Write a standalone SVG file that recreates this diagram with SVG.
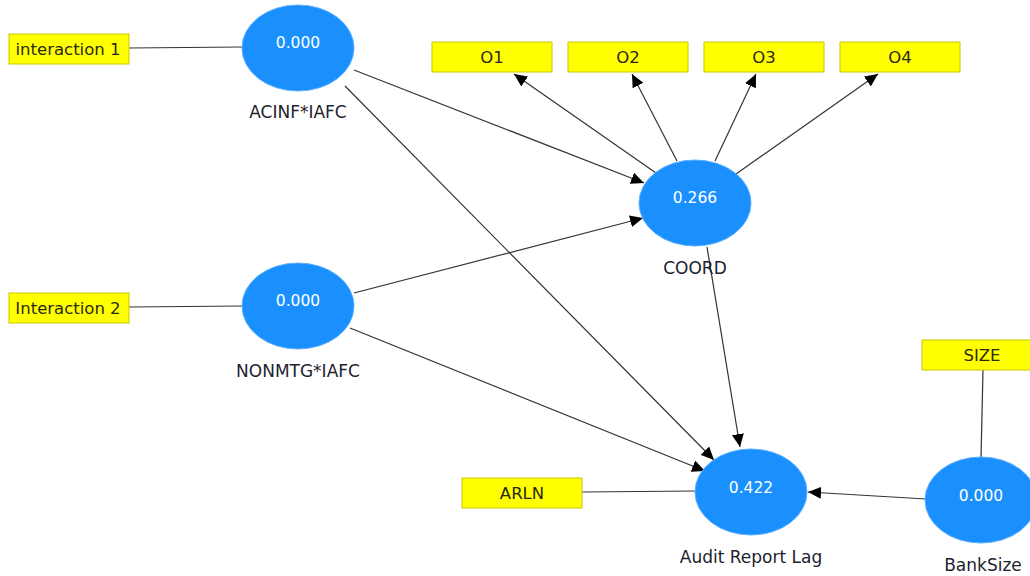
<svg xmlns="http://www.w3.org/2000/svg" width="1030" height="576" viewBox="0 0 1030 576">
<style>
.box{fill:#ffff00;stroke:#c8c800;stroke-width:1}
.lv{fill:#1a90ff;stroke:#5aaeff;stroke-width:1}
.bt{font-family:"DejaVu Sans","Open Sans",sans-serif;font-size:16.5px;fill:#2a2a10;text-anchor:middle;dominant-baseline:central}
.vt{font-family:"DejaVu Sans","Open Sans",sans-serif;font-size:15.5px;fill:#ffffff;text-anchor:middle;dominant-baseline:central}
.lt{font-family:"DejaVu Sans","Open Sans",sans-serif;font-size:17px;fill:#22222e;text-anchor:middle;dominant-baseline:central}
.c{stroke:#333333;stroke-width:1.2;fill:none}
.a{marker-end:url(#arr)}
</style>
<defs>
<marker id="arr" markerUnits="userSpaceOnUse" markerWidth="14" markerHeight="12" refX="13" refY="6" orient="auto">
<path d="M0,0 L13,6 L0,12 Z" fill="#000000"/>
</marker>
</defs>
<g id="connectors">
<line class="c" x1="129" y1="48" x2="242" y2="47"/>
<line class="c" x1="129" y1="307" x2="242" y2="306"/>
<line class="c" x1="582" y1="492" x2="696" y2="491"/>
<line class="c" x1="983" y1="370" x2="981" y2="458"/>
<line class="c a" x1="354" y1="70" x2="644" y2="183"/>
<line class="c a" x1="345" y1="86" x2="714" y2="460"/>
<line class="c a" x1="354" y1="293" x2="643" y2="218"/>
<line class="c a" x1="350" y1="328" x2="705" y2="471"/>
<line class="c a" x1="707" y1="247" x2="740" y2="447"/>
<line class="c a" x1="926" y1="499" x2="808" y2="492"/>
<line class="c a" x1="656" y1="173" x2="514" y2="74"/>
<line class="c a" x1="677" y1="161" x2="632" y2="74"/>
<line class="c a" x1="715" y1="161" x2="756" y2="74"/>
<line class="c a" x1="736" y1="174" x2="878" y2="74"/>
</g>
<g id="interaction1"><rect class="box" x="9" y="34" width="120" height="30"/><text class="bt" x="68" y="49">interaction 1</text></g>
<g id="interaction2"><rect class="box" x="9" y="293" width="120" height="30"/><text class="bt" x="68" y="308">Interaction 2</text></g>
<g id="O1"><rect class="box" x="432" y="42" width="120" height="30"/><text class="bt" x="492" y="57">O1</text></g>
<g id="O2"><rect class="box" x="568" y="42" width="120" height="30"/><text class="bt" x="628" y="57">O2</text></g>
<g id="O3"><rect class="box" x="704" y="42" width="120" height="30"/><text class="bt" x="764" y="57">O3</text></g>
<g id="O4"><rect class="box" x="840" y="42" width="120" height="30"/><text class="bt" x="900" y="57">O4</text></g>
<g id="ARLN"><rect class="box" x="462" y="478" width="120" height="30"/><text class="bt" x="522" y="493">ARLN</text></g>
<g id="SIZE"><rect class="box" x="922" y="340" width="110" height="30"/><text class="bt" x="982" y="355">SIZE</text></g>
<g id="ACINF_IAFC"><ellipse class="lv" cx="298" cy="48" rx="56" ry="43"/><text class="vt" x="298" y="43">0.000</text><text class="lt" x="298" y="112">ACINF*IAFC</text></g>
<g id="NONMTG_IAFC"><ellipse class="lv" cx="298" cy="306" rx="56" ry="43"/><text class="vt" x="298" y="301">0.000</text><text class="lt" x="298" y="371">NONMTG*IAFC</text></g>
<g id="COORD"><ellipse class="lv" cx="695" cy="203" rx="56" ry="43"/><text class="vt" x="695" y="198">0.266</text><text class="lt" x="695" y="268">COORD</text></g>
<g id="AuditReportLag"><ellipse class="lv" cx="751" cy="492" rx="56" ry="43"/><text class="vt" x="751" y="488">0.422</text><text class="lt" x="751" y="557">Audit Report Lag</text></g>
<g id="BankSize"><ellipse class="lv" cx="981" cy="500" rx="56" ry="43"/><text class="vt" x="981" y="496">0.000</text><text class="lt" x="983" y="565">BankSize</text></g>
</svg>
